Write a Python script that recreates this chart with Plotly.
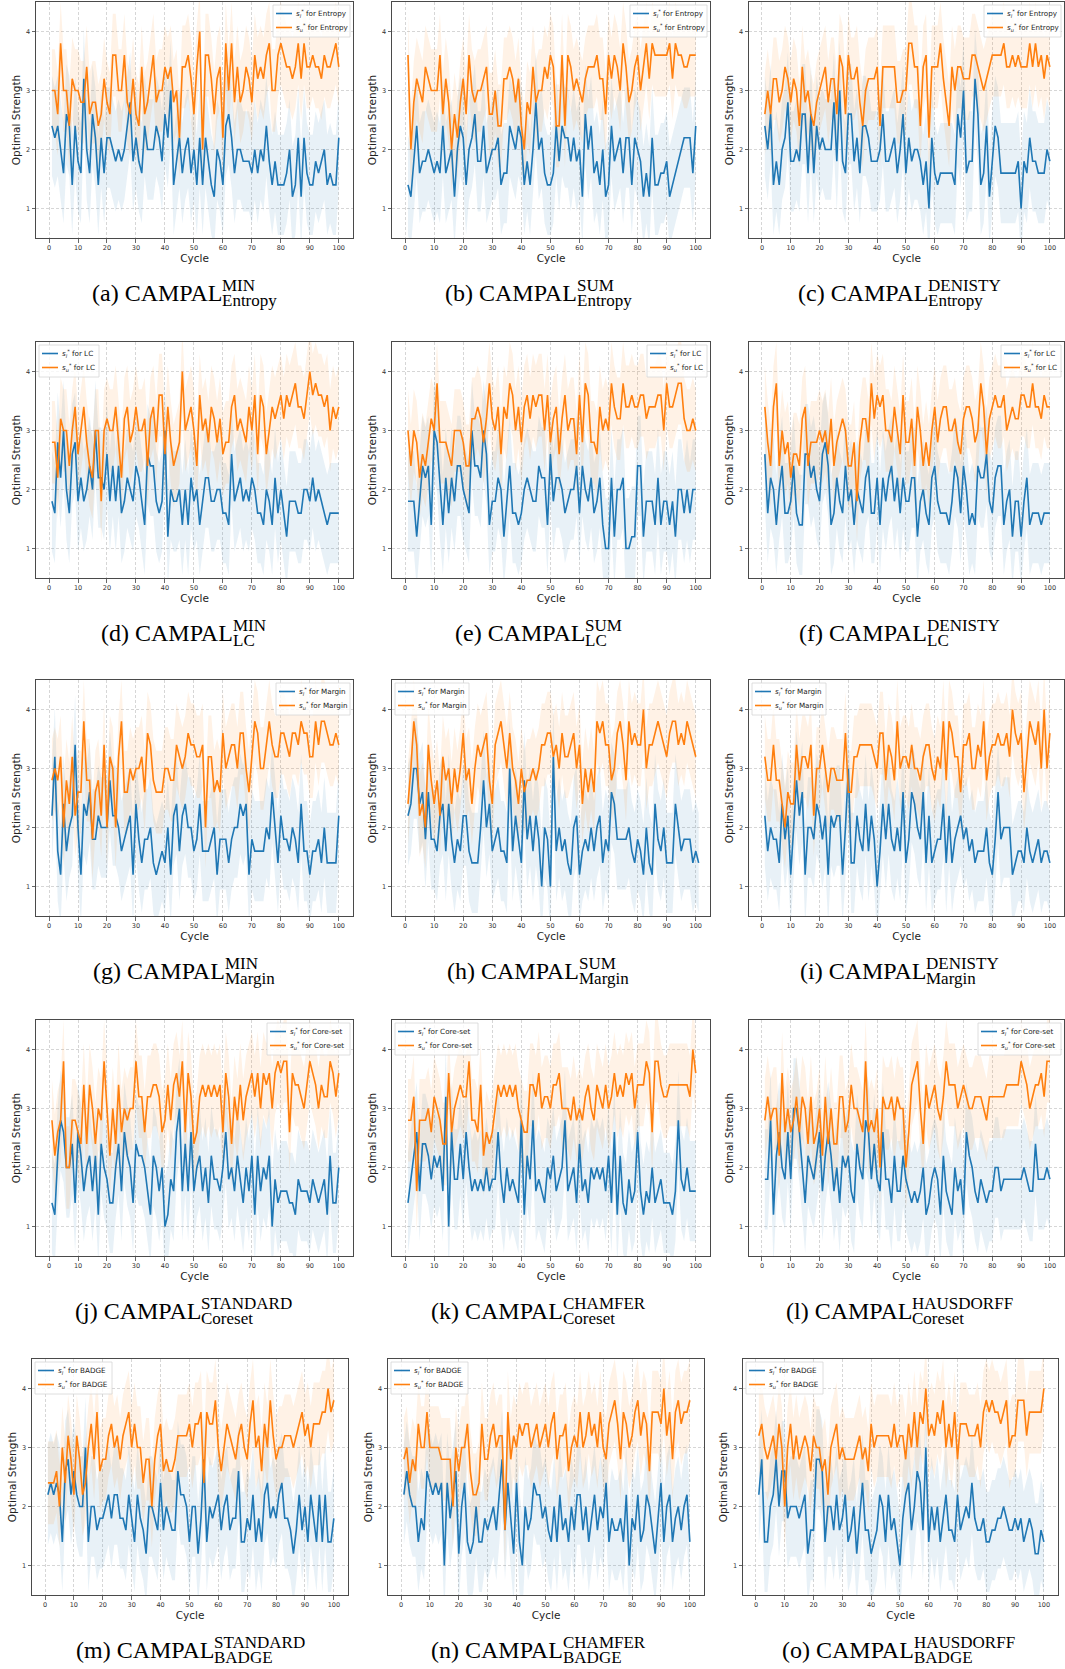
import plotly.graph_objects as go

W, H = 1065, 1669

# ---------------- data (values per cycle 1..100) ----------------
a_sl = [2.4,2.2,2.4,2.0,1.6,2.6,2.4,1.4,2.4,1.8,1.6,3.2,2.0,1.6,2.6,2.2,1.4,2.2,1.6,2.2,2.2,2.0,1.8,2.0,1.8,2.0,2.4,2.8,1.8,2.2,1.8,1.6,2.4,2.0,2.0,2.0,2.4,2.2,1.8,2.6,2.2,3.0,1.4,1.8,2.2,1.6,2.0,2.2,1.6,2.0,1.4,2.2,1.4,2.2,1.8,1.4,1.2,2.0,1.8,1.4,2.4,2.6,2.2,1.6,2.0,2.0,1.8,1.8,1.8,1.6,2.0,1.6,2.0,1.8,2.4,1.8,1.4,1.8,1.4,1.4,1.4,1.6,2.0,1.2,1.4,2.2,1.2,2.2,1.6,1.4,1.4,1.8,1.6,1.8,2.0,1.4,1.6,1.4,1.4,2.2]
a_su = [3.0,3.0,2.6,3.8,3.0,3.0,2.4,3.2,3.0,3.0,2.8,2.8,3.4,2.6,2.8,2.8,2.4,2.6,3.2,2.8,2.6,3.6,3.6,3.0,3.0,3.6,2.8,2.6,3.2,2.6,2.4,3.4,2.6,2.8,3.2,3.6,2.8,3.0,3.0,3.4,3.2,3.4,2.8,3.0,2.2,3.4,3.4,3.6,3.2,2.6,3.4,4.0,2.0,3.6,3.6,3.2,2.6,3.2,3.4,2.2,3.8,3.0,3.8,2.8,3.4,2.8,3.0,3.4,3.2,2.8,3.6,3.2,3.4,3.2,3.6,3.8,3.0,3.0,3.6,3.8,3.6,3.4,3.4,3.2,3.4,3.8,3.2,3.8,3.4,3.4,3.6,3.4,3.4,3.2,3.6,3.4,3.4,3.6,3.8,3.4]
b_sl = [1.4,1.2,1.8,2.4,1.6,1.8,1.8,2.0,1.8,1.6,1.8,1.6,2.4,1.6,1.8,2.0,1.2,2.0,2.4,2.2,1.4,2.0,2.2,2.6,1.8,1.8,2.4,1.6,1.8,2.0,2.0,2.2,1.4,1.6,1.6,2.4,2.2,2.0,2.4,2.2,1.4,1.8,1.4,2.0,2.8,2.0,2.2,1.6,1.4,1.4,1.6,2.4,1.8,2.4,2.2,2.2,1.8,2.2,1.8,2.0,1.2,2.6,2.0,2.4,1.6,1.8,1.4,2.0,1.2,1.4,2.4,1.8,2.0,2.2,1.6,2.2,2.2,1.4,2.2,2.0,1.8,1.2,1.6,1.2,2.2,1.4,1.4,1.6,1.6,1.8,1.2,1.4,1.6,1.8,2.0,2.2,2.2,2.2,1.6,2.4]
b_su = [3.6,2.0,2.8,3.2,3.0,2.8,3.4,3.2,3.0,3.0,3.0,3.6,2.6,3.2,2.8,2.0,2.6,2.2,2.8,3.2,2.6,3.6,3.0,2.8,3.0,3.0,3.2,3.4,2.6,2.6,3.0,2.4,2.4,3.2,3.2,3.4,3.2,2.8,3.2,2.4,2.0,2.8,2.6,3.4,2.8,3.0,3.0,3.4,3.2,3.6,3.4,2.4,2.4,3.6,2.4,3.6,3.4,3.0,3.2,3.0,2.8,3.2,3.4,3.4,3.4,3.6,3.2,3.2,2.6,3.6,3.2,3.6,3.4,3.0,3.8,3.4,2.8,3.0,3.4,3.6,3.0,3.4,3.8,3.2,3.8,3.6,3.6,3.6,3.6,3.6,3.8,3.2,3.8,3.6,3.6,3.4,3.4,3.6,3.6,3.6]
c_sl = [2.4,2.0,2.6,1.4,1.8,1.4,2.0,2.2,2.8,1.8,1.8,2.0,1.8,2.6,2.6,1.6,2.6,1.6,2.4,2.0,2.2,2.0,2.0,2.0,2.8,1.8,3.0,1.8,1.6,2.6,2.6,1.8,2.2,1.6,2.4,2.4,2.2,1.8,1.8,1.8,2.0,2.6,1.8,1.8,2.0,2.2,1.6,2.0,2.6,1.6,2.2,1.8,2.0,2.0,1.8,1.4,1.8,1.0,2.2,1.6,1.4,1.6,1.6,1.6,1.6,1.6,1.4,2.6,2.2,3.0,1.6,1.8,1.8,3.2,2.6,1.4,1.6,2.4,1.2,1.8,2.4,2.2,1.6,1.6,1.6,1.6,1.6,1.6,1.8,1.0,1.8,1.6,2.2,1.8,1.8,1.6,1.6,1.6,2.0,1.8]
c_su = [2.6,3.0,2.6,3.2,3.2,2.8,3.0,3.4,3.2,2.8,3.2,3.0,2.4,3.4,2.8,3.0,2.6,2.4,2.8,3.0,3.2,3.4,2.8,3.2,3.2,2.6,3.6,3.4,2.6,3.6,3.2,3.2,3.4,2.8,2.4,3.0,3.2,3.2,3.2,3.4,2.4,3.4,3.4,3.4,3.4,3.4,2.8,2.8,3.0,3.0,3.8,3.8,3.4,3.4,2.4,3.4,3.6,2.2,3.4,3.4,3.4,3.8,3.2,2.8,2.4,3.4,3.0,3.4,3.4,3.2,3.2,3.2,3.6,3.6,3.4,3.2,3.0,3.2,3.4,3.6,3.6,3.6,3.6,3.8,3.4,3.4,3.6,3.4,3.6,3.4,3.4,3.4,3.8,3.4,3.8,3.4,3.6,3.2,3.6,3.4]
d_sl = [1.8,1.6,2.8,2.2,3.0,2.0,1.6,2.6,2.8,1.8,2.2,1.8,2.0,2.4,2.0,3.0,2.2,2.2,2.0,2.6,1.8,2.4,1.8,2.4,1.6,1.8,2.2,2.0,1.8,2.4,2.2,1.8,1.4,2.6,2.4,2.4,1.8,1.6,1.8,3.0,1.2,2.0,1.8,1.8,2.0,1.4,2.0,1.4,2.2,1.8,2.0,1.4,1.8,2.2,2.2,1.8,1.8,2.0,2.0,1.6,1.6,1.4,2.6,1.8,2.0,2.2,1.8,2.0,1.8,2.2,2.0,1.6,1.6,1.4,2.0,1.8,1.4,2.2,1.6,2.0,1.6,1.2,1.8,1.8,1.8,1.6,1.6,2.0,2.0,1.8,2.2,1.8,2.0,1.8,1.6,1.4,1.6,1.6,1.6,1.6]
d_su = [2.8,2.8,2.2,3.2,3.0,3.0,2.4,3.0,3.4,2.6,3.0,3.4,2.8,2.4,2.2,3.0,3.0,1.8,3.0,3.2,3.0,3.0,3.4,2.8,2.2,3.2,3.4,2.8,3.0,3.4,3.0,3.0,3.2,2.4,3.2,3.4,2.8,3.6,3.6,2.6,3.4,2.8,2.4,2.6,2.8,4.0,3.0,3.2,3.4,3.0,2.4,3.6,3.0,3.2,2.8,3.4,3.2,2.8,3.2,2.6,2.8,2.8,3.4,3.6,3.0,3.2,3.0,2.8,3.4,3.0,3.6,2.6,3.6,3.4,2.6,3.0,3.4,3.2,3.4,3.6,3.2,3.6,3.4,3.6,3.8,3.4,3.4,3.2,3.6,4.0,3.6,3.8,3.6,3.6,3.4,3.6,3.0,3.4,3.2,3.4]
e_sl = [1.8,1.8,1.8,1.2,1.8,2.4,2.2,2.4,1.4,3.0,2.8,2.0,1.4,2.2,1.6,2.2,1.8,2.4,2.4,2.0,1.8,1.6,3.0,2.4,2.4,2.2,3.0,2.6,1.4,1.8,1.8,2.2,2.0,1.2,1.8,2.4,1.6,1.6,1.4,1.6,2.0,2.2,2.0,1.8,1.8,2.4,2.2,2.2,1.4,2.6,1.8,2.2,2.2,2.0,1.6,1.8,2.0,2.0,2.4,1.6,2.4,2.0,1.8,2.2,1.6,1.8,2.2,1.4,1.0,1.0,2.2,1.2,2.0,2.0,2.2,1.0,1.0,1.2,1.2,2.4,2.4,1.2,1.8,1.8,1.8,1.4,2.2,1.4,1.8,1.8,1.4,1.8,1.2,2.0,2.0,1.6,2.0,1.6,2.0,2.0]
e_su = [3.0,2.4,3.0,2.8,2.2,2.6,2.4,2.8,3.2,3.0,3.8,2.8,2.8,2.8,2.6,2.4,3.0,3.0,3.0,2.8,2.4,2.4,3.2,3.2,3.4,3.2,2.8,3.2,3.8,3.2,3.0,3.4,2.6,3.4,3.2,3.8,3.6,3.0,3.4,2.8,3.4,3.6,3.2,3.6,3.4,3.6,3.6,3.0,3.6,2.8,3.2,3.4,2.6,3.2,3.6,3.0,3.2,3.2,2.6,3.6,2.8,3.8,3.6,2.8,2.8,2.6,3.4,3.0,3.2,3.0,3.8,3.4,3.2,3.2,3.8,3.4,3.4,3.6,3.4,3.4,3.6,3.6,3.2,3.4,3.4,3.4,3.6,3.6,3.0,3.8,3.4,3.4,3.6,3.8,3.8,3.2,3.0,3.0,3.2,3.0]
f_sl = [2.6,1.6,2.2,2.0,1.4,2.0,2.4,1.6,1.6,1.8,2.4,1.6,1.4,1.4,2.6,2.6,2.2,2.4,2.0,1.8,2.6,2.8,2.4,1.4,1.6,2.2,1.8,1.6,2.4,1.8,2.0,1.4,2.0,1.8,1.6,2.2,2.4,1.6,1.6,2.2,1.4,2.2,1.8,2.2,2.4,1.8,2.2,1.6,2.2,1.8,1.8,2.2,2.2,1.2,1.8,2.0,1.6,1.4,2.2,2.4,1.8,1.6,1.6,1.6,1.4,1.8,2.4,2.2,1.6,2.4,2.0,1.4,1.6,1.4,2.4,2.2,2.2,2.6,1.8,1.6,2.2,2.4,2.4,1.4,1.8,2.0,1.2,1.8,1.8,1.2,1.8,2.2,1.4,1.6,1.6,1.6,1.4,1.6,1.6,1.6]
f_su = [3.4,2.8,2.4,3.4,3.8,2.4,3.0,2.6,2.8,2.2,2.6,2.6,2.4,3.2,3.4,2.4,2.8,2.8,2.8,3.0,2.8,3.0,2.6,3.2,2.4,2.8,3.0,3.2,3.0,2.4,2.4,2.8,1.8,2.8,3.2,3.2,2.8,3.8,3.2,3.6,3.4,3.6,3.0,3.0,2.8,3.4,3.0,2.6,3.6,2.8,2.8,3.2,2.4,3.4,3.0,2.4,2.8,2.4,3.0,3.4,2.8,3.2,3.4,3.4,3.0,3.0,3.2,2.8,2.6,3.2,3.4,3.4,3.2,2.8,3.0,3.8,3.4,2.6,3.2,3.4,3.6,3.4,3.4,3.6,3.0,3.2,3.4,3.2,3.2,3.6,3.6,3.4,3.4,3.8,3.4,3.4,3.2,3.6,3.4,3.4]
g_sl = [2.2,3.2,1.6,1.2,2.4,1.6,2.0,2.2,3.4,2.0,1.2,2.4,2.2,2.6,1.8,1.8,2.2,2.0,2.0,2.0,2.8,2.2,2.2,2.0,1.6,1.8,2.0,2.2,1.2,2.4,1.8,1.4,1.8,1.8,2.0,1.4,1.2,1.4,1.6,1.4,2.0,1.2,2.2,2.4,1.6,2.2,2.4,2.0,2.0,1.6,1.8,2.4,1.6,1.6,1.6,1.8,2.0,1.2,1.8,1.8,1.8,1.4,1.8,2.0,2.0,2.4,2.2,2.4,1.2,1.8,1.6,1.6,1.6,1.6,2.0,1.8,2.6,2.0,1.4,2.2,1.8,1.8,1.6,2.0,1.8,1.4,2.4,1.6,1.6,1.2,1.6,1.6,1.8,1.4,2.0,1.4,1.4,1.4,1.4,2.2]
g_su = [2.8,3.0,2.8,3.2,2.0,2.8,2.4,3.2,2.2,2.6,2.6,3.8,2.8,2.8,1.8,2.6,2.8,2.2,3.4,2.0,3.2,3.0,2.0,3.2,3.8,2.6,2.6,3.0,2.8,3.0,3.0,3.2,2.6,3.6,3.4,2.8,2.6,2.6,2.6,3.0,3.0,2.8,2.8,3.4,3.2,3.0,3.2,3.6,3.4,3.4,3.2,3.2,3.4,2.0,3.2,3.2,2.6,2.8,2.6,3.6,3.0,3.2,3.4,3.4,3.0,3.6,3.6,3.0,2.6,3.2,3.8,3.6,3.0,3.0,3.4,3.8,3.4,3.2,3.2,3.6,3.6,3.4,3.2,3.6,3.6,3.4,3.8,3.6,3.6,3.2,3.2,3.8,3.4,3.8,3.8,3.6,3.4,3.4,3.6,3.4]
h_sl = [2.2,2.4,3.0,3.0,2.4,2.6,1.8,2.6,1.8,1.8,1.6,2.2,2.4,1.6,2.4,1.8,1.4,1.8,1.6,2.2,2.2,1.6,1.4,1.4,1.4,2.0,2.8,2.0,2.4,1.6,1.8,2.0,1.6,1.6,1.4,3.0,1.6,2.2,1.8,1.4,2.8,1.8,2.2,1.6,2.2,1.8,1.0,2.0,1.8,1.0,3.2,1.6,2.0,1.6,1.8,1.4,1.2,2.0,2.2,1.2,1.6,1.8,1.6,2.0,1.6,2.0,2.2,1.4,1.8,1.6,2.6,2.4,1.8,1.8,1.8,1.8,2.0,1.6,1.4,1.8,1.6,1.2,2.0,1.4,1.2,2.4,1.8,1.6,2.0,1.4,1.4,1.4,2.4,2.0,1.6,1.8,1.8,1.8,1.4,1.6,1.4]
h_su = [2.4,3.0,3.8,3.4,2.2,2.4,2.0,3.4,2.8,2.4,2.8,2.2,3.2,2.8,3.0,2.4,3.0,2.6,3.0,3.6,2.8,3.0,2.4,3.0,3.4,3.2,3.4,3.6,2.8,2.4,3.4,3.6,3.8,3.4,3.0,3.6,3.0,2.8,2.4,3.0,2.6,2.8,2.8,3.0,2.8,3.0,3.4,3.4,3.6,3.6,3.2,3.4,3.0,3.6,3.2,3.2,3.4,3.6,3.0,3.4,2.4,3.0,2.6,3.0,2.6,3.8,3.6,3.8,3.4,3.4,2.8,3.0,3.6,3.8,3.4,2.8,3.8,3.4,3.6,3.4,3.4,4.0,3.0,3.4,3.4,3.6,3.8,3.6,3.4,3.2,3.6,3.8,3.8,3.4,3.6,3.4,3.8,3.6,3.4,3.2]
i_sl = [2.2,1.6,2.0,1.8,1.8,1.4,2.4,1.8,2.2,1.2,2.0,2.8,2.2,2.6,1.2,2.0,2.0,1.8,2.4,2.2,1.8,2.2,1.2,2.2,2.0,2.2,2.2,1.2,2.0,3.0,1.4,1.4,2.2,1.8,1.6,2.4,1.6,2.2,1.8,1.0,1.6,2.4,1.8,2.4,1.8,1.6,2.0,1.6,2.6,1.4,1.8,2.6,2.4,2.0,1.8,2.6,1.4,2.2,1.4,1.6,1.8,1.8,2.4,1.4,2.2,1.4,1.8,2.0,2.2,1.8,2.0,1.6,1.8,1.4,1.6,1.6,1.6,2.0,1.4,1.2,1.8,2.6,1.8,2.0,2.0,2.0,1.2,1.4,1.6,1.6,1.4,2.0,1.6,1.4,1.6,1.8,1.4,1.6,1.6,1.4]
i_su = [3.2,2.8,2.8,3.4,2.8,2.8,2.4,2.0,2.6,2.4,2.4,3.4,2.8,3.2,3.2,3.0,3.4,2.2,3.0,3.0,3.4,3.0,2.6,3.0,3.0,2.8,2.8,2.8,3.6,2.6,2.6,3.2,3.2,3.4,3.4,3.4,3.4,3.4,3.2,3.0,3.6,3.6,2.8,3.4,3.2,2.8,3.8,3.0,3.2,3.2,3.0,3.4,3.0,3.0,2.8,3.2,3.4,3.4,3.0,2.8,3.2,3.0,3.8,2.8,3.8,3.6,3.2,3.2,2.6,3.4,3.4,3.6,3.0,3.0,3.4,3.2,3.8,2.8,3.2,3.4,3.4,3.6,3.4,3.4,3.6,3.2,4.0,3.6,3.4,3.6,2.6,3.2,3.8,3.6,3.4,3.8,3.0,4.0,3.0,3.6]
j_sl = [1.4,1.2,2.2,2.8,2.6,2.0,2.0,2.4,1.4,2.6,2.2,1.6,2.0,2.2,1.6,2.2,1.2,2.4,2.0,1.8,1.4,1.4,2.0,2.4,1.6,2.6,2.2,2.0,1.4,2.4,2.2,2.2,2.0,1.6,1.2,2.2,2.0,1.6,2.0,1.0,1.2,1.8,1.6,2.6,3.0,1.6,2.4,1.6,2.6,1.6,2.0,2.2,1.6,2.0,1.4,2.2,1.8,1.8,1.6,2.0,2.6,1.8,2.0,1.6,2.2,1.8,1.4,2.0,1.6,2.2,1.2,2.2,1.6,2.0,1.8,2.2,1.0,1.8,1.4,1.6,1.6,1.6,1.4,1.4,1.2,1.8,1.6,1.6,1.6,1.4,1.8,1.6,1.4,1.6,1.8,1.2,2.2,1.4,1.4,2.0]
j_su = [2.8,2.2,2.6,2.8,3.8,2.0,2.0,2.8,2.8,2.6,2.4,3.4,2.4,3.4,3.0,2.4,3.0,2.8,3.8,3.0,2.2,3.0,2.4,3.4,2.6,3.0,2.8,3.0,3.0,3.8,3.2,3.2,2.6,3.2,3.2,3.4,3.4,3.2,2.6,2.8,3.4,2.8,3.4,3.6,3.2,3.8,2.6,3.6,3.2,2.4,2.6,3.2,3.4,3.2,3.4,3.2,3.4,3.2,3.4,2.6,3.6,3.2,2.4,3.2,2.8,3.4,2.8,3.2,3.4,3.6,3.2,3.6,3.0,3.6,3.4,3.6,3.0,3.6,3.8,3.6,3.8,3.8,2.6,3.6,3.4,3.4,3.2,3.0,3.4,3.8,3.6,3.4,3.0,3.4,3.2,3.2,3.8,3.6,3.2,3.6]
k_sl = [1.4,1.8,2.2,2.6,1.6,2.4,2.4,2.2,1.8,2.2,2.0,2.2,1.6,3.2,1.0,2.6,1.8,1.8,2.4,1.8,2.6,2.0,1.6,1.8,1.6,1.8,1.6,2.0,1.6,1.8,1.8,2.6,1.8,1.4,2.0,1.6,1.8,1.6,1.4,2.8,1.2,2.2,1.8,2.8,1.6,1.8,1.6,1.4,2.0,1.8,2.2,1.6,1.8,2.0,2.8,1.6,1.8,2.0,1.4,2.4,1.6,1.8,1.4,2.0,1.8,2.0,1.8,2.0,1.6,2.2,1.4,2.6,1.2,2.2,1.4,1.2,1.8,1.4,1.6,2.6,1.6,1.2,1.6,1.4,2.0,1.4,1.6,1.8,1.4,1.4,1.4,1.2,1.6,2.8,1.8,1.6,2.0,1.6,1.6,1.6]
k_su = [2.8,2.8,3.2,1.6,2.8,2.8,2.8,3.0,2.6,3.2,3.0,2.8,2.4,2.4,3.6,2.6,3.0,3.2,3.4,3.2,3.2,3.8,2.8,2.8,2.6,3.4,2.2,2.6,2.4,2.6,3.0,3.4,3.2,3.4,3.2,3.4,3.2,3.4,3.0,2.8,2.6,2.6,3.4,3.4,3.2,3.6,3.0,3.2,3.2,3.0,3.4,3.4,3.6,3.0,3.0,3.0,2.8,3.2,2.8,3.0,2.8,3.2,3.4,3.0,2.8,3.4,3.2,3.0,3.4,3.0,3.2,3.6,3.2,3.4,3.2,3.6,3.4,3.6,3.0,3.4,3.4,3.4,3.8,3.6,2.6,3.8,3.8,3.4,3.2,3.2,3.4,3.4,3.4,3.4,3.4,3.4,3.4,3.2,4.0,3.6]
l_sl = [1.8,1.8,2.8,1.2,2.2,2.6,2.0,1.8,2.6,1.8,3.0,3.0,2.6,2.0,1.4,2.2,2.0,1.8,2.2,2.6,1.6,2.2,2.6,2.2,1.6,2.0,1.4,2.2,2.0,2.2,1.6,1.4,2.4,2.0,1.8,2.8,2.6,1.8,2.4,1.8,1.6,2.6,1.8,1.8,1.4,2.2,1.6,1.6,2.2,1.8,1.6,1.4,1.6,1.4,1.6,2.0,1.2,1.4,1.8,2.0,1.8,1.2,2.2,1.6,1.4,1.2,2.0,1.6,1.8,1.2,2.6,2.2,2.0,1.6,1.4,1.8,1.6,1.4,1.6,1.6,2.0,2.0,1.6,1.8,1.8,1.8,1.8,1.8,1.8,1.8,2.0,1.8,1.6,1.6,2.4,1.8,1.8,1.8,2.0,1.8]
l_su = [2.8,3.2,2.8,3.0,3.0,2.2,3.6,2.6,3.0,2.6,2.8,3.2,2.6,3.2,3.0,2.4,3.2,2.4,2.6,3.0,2.2,3.2,2.4,3.0,2.4,2.4,3.2,3.2,2.6,2.8,3.4,3.0,3.0,2.8,2.6,3.8,2.6,2.8,2.6,3.0,2.0,3.2,3.0,3.0,3.2,2.8,3.2,3.0,3.0,2.0,2.6,3.4,3.6,3.8,3.0,2.4,3.4,3.0,3.2,3.4,3.0,2.8,3.2,3.8,3.4,3.4,3.4,3.0,3.2,3.4,3.2,3.0,3.0,3.2,3.2,3.2,3.0,2.8,3.2,3.2,3.2,3.2,3.2,3.2,3.4,3.4,3.4,3.4,3.4,3.8,3.6,3.4,3.0,3.2,3.4,3.4,3.6,3.2,3.8,3.8]
m_sl = [2.2,2.4,2.2,2.4,2.2,1.4,2.6,2.8,2.2,2.6,2.2,2.0,2.0,3.0,1.4,2.0,2.0,1.6,1.8,1.8,2.0,2.2,1.8,2.2,2.2,1.8,1.8,1.6,2.2,1.8,1.4,2.2,1.8,1.6,1.2,2.0,2.0,1.8,1.6,2.4,1.6,2.0,1.8,1.6,1.6,2.6,2.2,2.2,2.0,1.4,2.0,2.0,1.2,1.8,2.8,1.4,2.0,1.8,2.0,2.2,1.6,2.0,2.2,1.6,1.8,1.8,2.6,1.4,1.4,1.8,1.6,2.2,1.4,1.8,1.4,2.2,2.4,1.8,2.0,1.8,2.2,2.4,1.8,1.8,1.6,1.2,1.6,2.2,1.6,2.0,1.4,2.2,1.8,1.4,2.2,1.4,2.2,1.4,1.4,1.8]
m_su = [2.4,2.4,2.4,2.6,2.0,3.0,2.4,3.2,2.8,2.2,3.2,2.8,2.2,2.4,3.0,3.4,2.8,3.6,2.6,2.8,2.8,3.2,3.4,3.0,3.2,2.8,3.2,3.4,3.6,3.0,3.4,3.0,3.0,2.4,2.8,2.8,2.0,2.8,3.2,3.4,2.6,2.8,2.6,2.6,2.8,3.2,3.2,3.2,3.2,3.4,3.0,3.4,3.4,3.6,2.4,3.6,3.4,3.4,3.8,3.0,2.6,3.0,3.4,3.2,3.0,2.8,3.2,3.4,3.0,2.8,3.4,3.8,3.0,3.2,2.6,3.4,3.0,3.8,3.2,2.8,3.0,3.0,3.2,3.2,3.2,3.0,3.2,3.4,3.6,3.2,3.4,3.0,3.4,3.4,3.4,3.6,3.6,4.0,3.6,3.8]
n_sl = [2.2,2.6,2.2,2.0,2.0,1.4,1.8,1.6,2.6,2.4,2.2,2.4,2.2,2.4,1.0,2.4,1.8,2.2,2.6,1.2,2.0,2.4,1.4,1.2,1.4,2.0,1.4,1.4,1.8,1.6,1.8,2.0,1.6,2.2,2.8,1.6,2.4,1.8,1.2,2.4,1.4,1.0,2.0,1.6,1.8,2.4,2.2,2.2,1.8,2.0,1.6,1.4,2.0,1.4,2.2,1.6,1.8,1.4,2.0,1.6,2.2,2.2,1.6,2.0,1.4,1.8,2.2,1.6,2.0,1.8,2.4,1.4,1.8,1.6,1.6,1.8,1.4,2.2,1.0,1.8,1.6,2.2,1.4,1.6,2.2,2.0,1.6,1.2,1.8,2.4,1.4,2.0,2.2,1.4,1.8,2.0,1.6,2.0,2.2,1.4]
n_su = [2.8,3.0,2.4,2.8,2.6,3.4,3.0,3.0,3.6,3.0,3.0,3.0,3.0,2.8,2.8,2.8,2.8,2.0,3.0,2.6,3.0,3.0,3.4,2.6,2.2,2.2,2.4,3.4,2.8,2.8,3.2,3.4,3.0,3.2,3.2,1.6,3.6,2.8,3.2,3.0,3.4,3.2,3.4,3.4,3.0,3.2,3.4,3.0,3.2,3.4,3.0,3.4,3.6,2.8,3.2,3.2,3.4,2.6,3.0,3.2,3.0,3.6,3.0,3.2,3.6,3.2,3.4,3.0,3.6,3.0,2.8,3.4,3.6,3.8,3.4,2.8,3.6,3.4,3.0,3.2,3.6,3.8,3.2,3.6,3.4,2.6,3.6,3.6,3.6,3.4,4.0,3.2,3.6,2.8,3.6,3.8,3.4,3.6,3.6,3.8]
o_sl = [2.2,2.8,1.4,1.4,2.0,2.2,2.8,2.0,2.6,2.6,1.8,2.0,2.0,2.0,1.8,2.0,2.2,1.2,1.6,1.6,2.8,2.8,2.6,1.4,2.0,2.0,1.6,2.2,1.6,1.8,2.2,1.4,1.6,2.0,1.2,1.8,2.4,1.6,1.6,1.2,1.4,1.6,2.2,2.0,1.4,2.2,1.6,1.8,1.4,1.0,1.8,2.2,2.4,1.6,2.0,2.6,2.4,1.6,3.0,1.4,2.0,1.6,2.0,1.4,1.8,2.2,1.6,1.6,1.4,2.2,1.6,1.8,2.0,1.8,2.4,1.8,1.6,1.6,1.8,1.4,1.4,1.6,1.6,1.8,1.8,2.0,1.8,1.6,1.6,1.8,1.6,1.8,1.4,1.6,1.8,1.6,1.2,1.2,1.6,1.4]
o_su = [3.2,3.4,3.0,2.8,3.0,3.2,2.8,3.4,3.0,2.0,3.0,3.4,2.8,3.2,2.8,3.0,3.2,3.0,2.6,3.2,3.0,3.0,2.6,2.8,2.2,3.0,3.2,3.4,2.8,3.0,2.8,2.8,2.8,2.8,3.0,3.2,2.8,3.0,2.6,3.4,3.0,3.2,3.2,3.2,3.2,3.2,3.0,3.4,3.0,3.2,3.2,2.8,3.4,3.0,3.6,3.0,3.6,3.4,4.0,3.2,3.4,3.2,3.6,3.4,3.8,3.0,3.4,3.0,3.6,2.8,3.4,3.4,3.4,3.2,3.2,3.2,3.4,3.0,3.6,3.8,3.6,3.8,3.6,3.6,3.4,3.6,3.8,3.0,3.2,3.2,3.8,3.8,3.8,3.2,3.6,3.6,3.6,3.6,3.6,4.0]

# half-width of the shaded spread around each curve (s_l, s_u)
band_half_width = [0.85, 0.7]

panel_letters = ["a","b","c","d","e","f","g","h","i","j","k","l","m","n","o"]
caption_sup = ["MIN","SUM","DENISTY"]*3 + ["STANDARD","CHAMFER","HAUSDORFF"]*2
caption_sub = ["Entropy"]*3 + ["LC"]*3 + ["Margin"]*3 + ["Coreset"]*3 + ["BADGE"]*3
legend_names = ["Entropy"]*3 + ["LC"]*3 + ["Margin"]*3 + ["Core-set"]*3 + ["BADGE"]*3
legend_side = ["right","right","right","left","right","right","right","left","left",
               "right","left","right","left","left","left"]
sl_series = [a_sl,b_sl,c_sl,d_sl,e_sl,f_sl,g_sl,h_sl,i_sl,j_sl,k_sl,l_sl,m_sl,n_sl,o_sl]
su_series = [a_su,b_su,c_su,d_su,e_su,f_su,g_su,h_su,i_su,j_su,k_su,l_su,m_su,n_su,o_su]
x_ticks = list(range(0, 101, 10))
y_ticks = [1, 2, 3, 4]

# ---------------- layout geometry (pixels) ----------------
row_tops = [2, 342, 680, 1020, 1359]
axes_h = 236
col_bounds = [[(36, 353), (392, 710), (749, 1064)]] * 4 + [[(32, 348), (388, 704), (743, 1058)]]
caption_centers = [[183, 537, 898]] * 4 + [[190, 537, 898]]
caption_base_offset = 300  # baseline below the axes top

BLUE, ORANGE = "#1f77b4", "#ff7f0e"
BLUE_FILL, ORANGE_FILL = "rgba(31,119,180,0.10)", "rgba(255,127,14,0.10)"
SANS = "DejaVu Sans"
SERIF = "Liberation Serif"

TIMES_W = {'(':333,')':333,' ':250,'a':444,'b':500,'c':444,'d':500,'e':444,'f':333,'g':500,'h':500,
           'i':278,'j':278,'k':500,'l':278,'m':778,'n':500,'o':500,'p':500,'r':333,'s':389,'t':278,
           'y':500,'A':722,'B':667,'C':667,'D':722,'E':611,'F':556,'G':722,'H':722,'I':333,'L':611,
           'M':889,'N':722,'O':722,'P':556,'R':667,'S':556,'T':611,'U':722,'Y':722,'-':333}


def tw(s, size):
    return sum(TIMES_W.get(ch, 500) for ch in s) / 1000.0 * size


def px(x):
    return x / W


def py(y):
    return 1 - y / H


fig = go.Figure()
layout = dict(width=W, height=H, margin=dict(l=0, r=0, t=0, b=0),
              paper_bgcolor="white", plot_bgcolor="white", showlegend=False)
shapes, annotations = [], []

for i in range(15):
    r, c = divmod(i, 3)
    n = i + 1
    xa = "x" if n == 1 else f"x{n}"
    ya = "y" if n == 1 else f"y{n}"
    xkey = "xaxis" if n == 1 else f"xaxis{n}"
    ykey = "yaxis" if n == 1 else f"yaxis{n}"
    left, right = col_bounds[r][c]
    top = row_tops[r]
    bottom = top + axes_h

    sl, su = sl_series[i], su_series[i]
    for ys, hw, fillc in ((sl, band_half_width[0], BLUE_FILL), (su, band_half_width[1], ORANGE_FILL)):
        xs = list(range(1, len(ys) + 1))
        upper = [v + hw for v in ys]
        lower = [v - hw for v in ys]
        fig.add_trace(go.Scatter(x=xs + xs[::-1], y=upper + lower[::-1], mode="lines",
                                 line=dict(width=0), fill="toself", fillcolor=fillc,
                                 hoverinfo="skip", xaxis=xa, yaxis=ya))
    for ys, col in ((sl, BLUE), (su, ORANGE)):
        xs = list(range(1, len(ys) + 1))
        fig.add_trace(go.Scatter(x=xs, y=ys, mode="lines", line=dict(color=col, width=1.6),
                                 xaxis=xa, yaxis=ya))

    common = dict(showline=True, linecolor="#4a4a4a", linewidth=1, mirror=True,
                  ticks="outside", ticklen=3.5, tickwidth=0.8, tickcolor="#444",
                  tickfont=dict(family=SANS, size=6.5, color="#333"),
                  showgrid=True, gridcolor="#c4c4c4", gridwidth=0.7, griddash="3px,2px",
                  zeroline=False, fixedrange=True)
    layout[xkey] = dict(common, domain=[px(left), px(right)], anchor=ya, range=[-4.5, 104.9],
                        tickvals=x_ticks,
                        title=dict(text="Cycle", font=dict(family=SANS, size=10.5, color="#222"), standoff=2))
    layout[ykey] = dict(common, domain=[py(bottom), py(top)], anchor=xa, range=[0.5, 4.5],
                        tickvals=y_ticks,
                        title=dict(text="Optimal Strength", font=dict(family=SANS, size=10.5, color="#222"), standoff=3))

    # legend (matplotlib style box)
    name = legend_names[i]
    box_w = {"Entropy": 77, "LC": 60, "Margin": 74, "Core-set": 83, "BADGE": 77}[name]
    box_h = 32
    if legend_side[i] == "right":
        bx1 = right - 3
        bx0 = bx1 - box_w
    else:
        bx0 = left + 3
        bx1 = bx0 + box_w
    by0 = top + 3
    shapes.append(dict(type="rect", xref="paper", yref="paper", x0=px(bx0), x1=px(bx1),
                       y0=py(by0 + box_h), y1=py(by0), line=dict(color="#d6d6d6", width=0.8),
                       fillcolor="rgba(255,255,255,0.8)", layer="above"))
    for k, (col, sub) in enumerate(((BLUE, "l"), (ORANGE, "u"))):
        yy = by0 + 8.5 + 14 * k
        shapes.append(dict(type="line", xref="paper", yref="paper", x0=px(bx0 + 3), x1=px(bx0 + 19),
                           y0=py(yy), y1=py(yy), line=dict(color=col, width=1.6), layer="above"))
        annotations.append(dict(xref="paper", yref="paper", x=px(bx0 + 22), y=py(yy),
                                xanchor="left", yanchor="middle", showarrow=False, borderpad=0,
                                text=f"<i>s</i><sub><i>{sub}</i></sub><sup>*</sup> for {name}",
                                font=dict(family=SANS, size=7.2, color="#222")))

    # caption: "(x) CAMPAL" with stacked super/subscript
    main = f"({panel_letters[i]}) CAMPAL"
    sup, sub = caption_sup[i], caption_sub[i]
    mw = tw(main, 24)
    sw = max(tw(sup, 17), tw(sub, 17))
    cx = caption_centers[r][c]
    split = cx - (mw + sw) / 2 + mw
    base = top + caption_base_offset
    annotations.append(dict(xref="paper", yref="paper", x=px(split + 1), y=py(base - 9),
                            xanchor="right", yanchor="middle", showarrow=False, text=main, borderpad=0,
                            font=dict(family=SERIF, size=24, color="black")))
    annotations.append(dict(xref="paper", yref="paper", x=px(split - 1), y=py(base - 17),
                            xanchor="left", yanchor="middle", showarrow=False, text=sup, borderpad=0,
                            font=dict(family=SERIF, size=17, color="black")))
    annotations.append(dict(xref="paper", yref="paper", x=px(split - 1), y=py(base - 2),
                            xanchor="left", yanchor="middle", showarrow=False, text=sub, borderpad=0,
                            font=dict(family=SERIF, size=17, color="black")))

layout["shapes"] = shapes
layout["annotations"] = annotations
fig.update_layout(**layout)
fig.write_html("out.html", config={"displayModeBar": False, "staticPlot": True},
               post_script="document.body.style.margin='0';document.body.style.overflow='hidden';")
